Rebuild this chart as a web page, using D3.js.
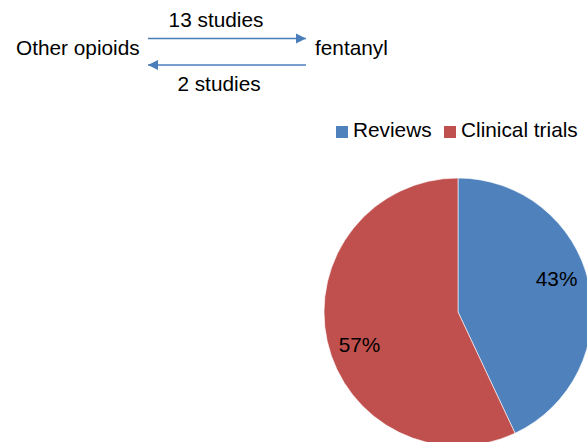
<!DOCTYPE html>
<html>
<head>
<meta charset="utf-8">
<script src="https://cdn.jsdelivr.net/npm/d3@7"></script>
<style>
  body { margin: 0; background: #fff; overflow: hidden; }
  text { font-family: "Liberation Sans", Arial, sans-serif; fill: #000; }
</style>
</head>
<body>
<script>
// Pie chart plus a small "study direction" diagram
const width = 587;
const height = 442;

// --- data ---
const categories = ["Reviews", "Clinical trials"];
const shares = [43, 57];
const colors = ["#4F81BD", "#C0504D"];

const flowNodes = ["Other opioids", "fentanyl"];
const flowLabels = ["13 studies", "2 studies"];

const svg = d3.select("body").append("svg")
    .attr("width", width)
    .attr("height", height);

const defs = svg.append("defs");
defs.append("marker")
    .attr("id", "arrow")
    .attr("viewBox", "0 0 10 10")
    .attr("refX", 10)
    .attr("refY", 5)
    .attr("markerWidth", 10)
    .attr("markerHeight", 11)
    .attr("markerUnits", "userSpaceOnUse")
    .attr("orient", "auto")
  .append("path")
    .attr("d", "M0,0L10,5L0,10Z")
    .attr("fill", "#4A7EBB");

// --- flow diagram (top left) ---
const flow = svg.append("g").attr("class", "flow");
const fontSize = 20.8;

flow.append("text")
    .attr("x", 16).attr("y", 55)
    .attr("font-size", fontSize)
    .text(flowNodes[0]);

flow.append("text")
    .attr("x", 315).attr("y", 55)
    .attr("font-size", fontSize)
    .text(flowNodes[1]);

// forward arrow and back arrow
const arrowX = d3.scaleLinear().domain([0, 1]).range([148, 306]);
const arrows = [
  { from: 0, to: 1, y: 38.5, label: flowLabels[0], ly: 27 },
  { from: 1, to: 0, y: 65, label: flowLabels[1], ly: 91 }
];

flow.selectAll("line")
  .data(arrows)
  .join("line")
    .attr("x1", d => arrowX(d.from))
    .attr("x2", d => arrowX(d.to))
    .attr("y1", d => d.y)
    .attr("y2", d => d.y)
    .attr("stroke", "#4A7EBB")
    .attr("stroke-width", 1.5)
    .attr("marker-end", "url(#arrow)");

flow.selectAll("text.lbl")
  .data(arrows)
  .join("text")
    .attr("class", "lbl")
    .attr("x", (d, i) => i === 0 ? 216 : 219)
    .attr("y", d => d.ly)
    .attr("text-anchor", "middle")
    .attr("font-size", fontSize)
    .text(d => d.label);

// --- legend ---
const legend = svg.append("g").attr("class", "legend");
const legendX = [336, 444];
const legendItems = legend.selectAll("g")
  .data(categories)
  .join("g")
    .attr("transform", (d, i) => `translate(${legendX[i]}, 126)`);

legendItems.append("rect")
    .attr("width", 12)
    .attr("height", 12)
    .attr("fill", (d, i) => colors[i]);

legendItems.append("text")
    .attr("x", 17)
    .attr("y", 11)
    .attr("font-size", fontSize)
    .text(d => d);

// --- pie ---
const cx = 458, cy = 312, r = 134;
const pie = d3.pie().sort(null).value(d => d);
const arc = d3.arc().innerRadius(0).outerRadius(r);
const labelR = 104;
const labelShift = -6 * Math.PI / 180;

const g = svg.append("g")
    .attr("transform", `translate(${cx}, ${cy})`);

const slices = pie(shares);

g.selectAll("path")
  .data(slices)
  .join("path")
    .attr("d", arc)
    .attr("fill", (d, i) => colors[i])
    .attr("stroke", "#fff")
    .attr("stroke-width", 0.6);

g.selectAll("text")
  .data(slices)
  .join("text")
    .attr("x", d => labelR * Math.sin((d.startAngle + d.endAngle) / 2 + labelShift))
    .attr("y", d => -labelR * Math.cos((d.startAngle + d.endAngle) / 2 + labelShift))
    .attr("dy", "0.35em")
    .attr("text-anchor", "middle")
    .attr("font-size", fontSize)
    .text(d => d.data + "%");
</script>
</body>
</html>
